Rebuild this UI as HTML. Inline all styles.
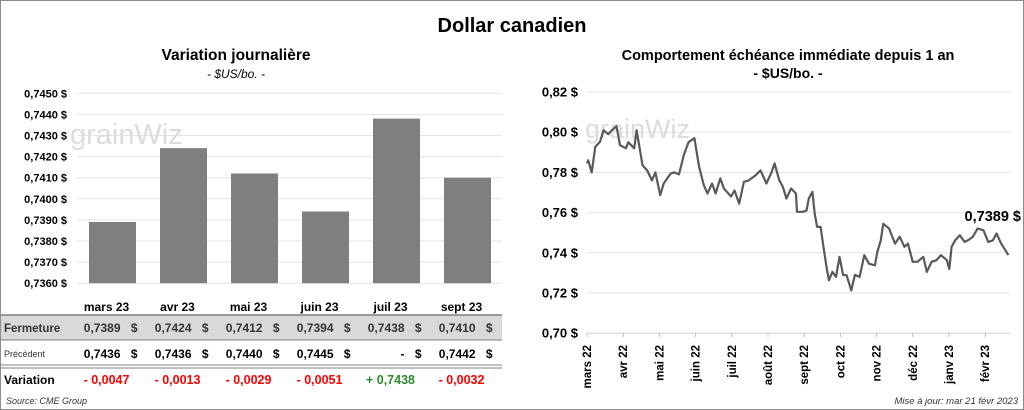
<!DOCTYPE html>
<html><head><meta charset="utf-8"><style>
body{margin:0;background:#fff;}
svg{display:block;font-family:"Liberation Sans",sans-serif;}
</style></head><body>
<svg id="s" width="1024" height="410" viewBox="0 0 1024 410">
<rect x="0.5" y="0.5" width="1023" height="409" fill="#fff" stroke="#8c8c8c"/>
<text x="512" y="32" text-anchor="middle" font-size="20" font-weight="bold">Dollar canadien</text>
<text x="236" y="60" text-anchor="middle" font-size="15.5" font-weight="bold">Variation  journalière</text>
<text x="236" y="78" text-anchor="middle" font-size="12" font-style="italic">- $US/bo. -</text>
<text x="788" y="60" text-anchor="middle" font-size="14.5" font-weight="bold">Comportement échéance immédiate depuis 1 an</text>
<text x="788" y="78" text-anchor="middle" font-size="14" font-weight="bold">- $US/bo. -</text>
<g id="left"></g>
<g id="right"></g>
<g id="tbl"></g>
<text x="6" y="404" font-size="9" font-style="italic" fill="#333">Source: CME Group</text>
<text x="1018" y="404" text-anchor="end" font-size="9.5" font-style="italic" fill="#333">Mise à jour: mar 21 févr 2023</text>
</svg>
<script>
const barCats=["mars 23","avr 23","mai 23","juin 23","juil 23","sept 23"];
const barVals=[0.7389,0.7424,0.7412,0.7394,0.7438,0.7410];
const barTicks=[0.7360,0.7370,0.7380,0.7390,0.7400,0.7410,0.7420,0.7430,0.7440,0.7450];
const fermeture=["0,7389","0,7424","0,7412","0,7394","0,7438","0,7410"];
const precedent=["0,7436","0,7436","0,7440","0,7445","-","0,7442"];
const variation=["- 0,0047","- 0,0013","- 0,0029","- 0,0051","+ 0,7438","- 0,0032"];
const lineDays=[0,1,4,7,11,14,18,21,25,28,33,35,40,42,47,51,55,58,62,65,71,74,78,82,86,91,95,99,102,106,109,113,116,122,125,129,133,137,143,147,152,156,159,163,166,169,173,177,178,183,186,188,191,193,195,198,200,203,205,208,211,214,217,220,224,227,231,235,239,244,246,249,251,256,261,265,269,272,276,280,285,288,292,296,300,305,307,309,312,316,320,323,327,331,336,340,344,347,351,357];
const lineVals=[0.7845,0.786,0.780,0.7927,0.7952,0.801,0.799,0.801,0.803,0.7936,0.792,0.795,0.792,0.801,0.7836,0.781,0.776,0.780,0.7687,0.7745,0.7795,0.780,0.779,0.7886,0.795,0.797,0.7828,0.7737,0.7695,0.7745,0.7695,0.777,0.772,0.768,0.771,0.7645,0.7753,0.776,0.7786,0.781,0.7745,0.7795,0.7845,0.776,0.7728,0.767,0.772,0.7695,0.7604,0.7604,0.761,0.767,0.7703,0.7595,0.7529,0.7529,0.7446,0.733,0.7263,0.7305,0.728,0.738,0.729,0.7288,0.7213,0.729,0.728,0.7388,0.7346,0.7338,0.7404,0.7462,0.7545,0.7521,0.7446,0.748,0.743,0.7446,0.7355,0.7355,0.738,0.7305,0.7355,0.7363,0.7388,0.7363,0.732,0.743,0.7462,0.7487,0.7454,0.7462,0.748,0.7521,0.7512,0.7454,0.7462,0.7496,0.7446,0.7389];
const lineTicks=[0.70,0.72,0.74,0.76,0.78,0.80,0.82];
const monthLabels=["mars 22","avr 22","mai 22","juin 22","juil 22","août 22","sept 22","oct 22","nov 22","déc 22","janv 23","févr 23"];
const lastLabel="0,7389 $";
const NS="http://www.w3.org/2000/svg";
function mk(parent,tag,attrs,txt){const e=document.createElementNS(NS,tag);for(const k in attrs)e.setAttribute(k,attrs[k]);if(txt!==undefined)e.textContent=txt;parent.appendChild(e);return e;}
function fmt(v,d){return v.toFixed(d).replace('.',',')+' $';}
const L=document.getElementById('left');
const ly=v=>93.3+(0.7450-v)/0.001*21.1;
const bx=i=>77+71*i+35.5;
barTicks.forEach(t=>{
 const g=mk(L,'line',{x1:77,x2:502,y1:ly(t),y2:ly(t),stroke:'#e3e3e3','stroke-width':1});
 
 
 const tx=mk(L,'text',{x:67,y:ly(t)+4,'text-anchor':'end','font-size':11,'font-weight':'bold'},fmt(t,4));
 
 
});
const wm1=mk(L,'text',{x:70,y:144,'font-size':29,fill:'#dcdcdc'},'grainWiz');


barVals.forEach((v,i)=>{
 const r=mk(L,'rect',{x:bx(i)-23.5,y:ly(v),width:47,height:ly(0.7360)-ly(v),fill:'#7f7f7f'});
 
 
});
const T=document.getElementById('tbl');
mk(T,'rect',{x:1,y:315,width:501,height:25,fill:'#d9d9d9'});
mk(T,'line',{x1:1,x2:502,y1:315,y2:315,stroke:'#7f7f7f','stroke-width':1.5});
mk(T,'line',{x1:1,x2:502,y1:340,y2:340,stroke:'#7f7f7f','stroke-width':1});
mk(T,'line',{x1:1,x2:502,y1:365,y2:365,stroke:'#7f7f7f','stroke-width':1});
mk(T,'line',{x1:1,x2:502,y1:368,y2:368,stroke:'#7f7f7f','stroke-width':1});
const rl1=mk(T,'text',{x:4,y:332,'font-size':11.5,'font-weight':'bold',fill:'#333'},'Fermeture');


const rl2=mk(T,'text',{x:4,y:357,'font-size':9,fill:'#333'},'Précédent');


const rl3=mk(T,'text',{x:4,y:384,'font-size':12,'font-weight':'bold'},'Variation');


barCats.forEach((c,i)=>{
 const cx=bx(i)-6;
 const h=mk(T,'text',{x:cx,y:311,'text-anchor':'middle','font-size':12,'font-weight':'bold'},c);
 
 
 const f=mk(T,'text',{x:cx+14,y:332,'text-anchor':'end','font-size':12,'font-weight':'bold',fill:'#333'},fermeture[i]);
 
 
 mk(T,'text',{x:cx+31,y:332,'text-anchor':'end','font-size':12,'font-weight':'bold',fill:'#333'},'$');
 const p=mk(T,'text',{x:cx+14,y:358,'text-anchor':'end','font-size':12,'font-weight':'bold'},precedent[i]);
 
 
 mk(T,'text',{x:cx+31,y:358,'text-anchor':'end','font-size':12,'font-weight':'bold'},'$');
 const va=mk(T,'text',{x:cx,y:384,'text-anchor':'middle','font-size':12.5,'font-weight':'bold',fill:variation[i][0]==='+'?'#2e8b2e':'#ff0000'},variation[i]);
 
 
});
const R=document.getElementById('right');
const ry=v=>92+(0.82-v)/0.02*40.2;
const rx=d=>587+d*1.18;
lineTicks.forEach(t=>{
 const g=mk(R,'line',{x1:587,x2:1010,y1:ry(t),y2:ry(t),stroke:t===0.70?'#d0d0d0':'#e3e3e3','stroke-width':1});
 
 
 const tx=mk(R,'text',{x:578,y:ry(t)+4.5,'text-anchor':'end','font-size':13,'font-weight':'bold'},fmt(t,2));
 
 
});
const wm2=mk(R,'text',{x:585,y:138,'font-size':27,fill:'#dcdcdc'},'grainWiz');


monthLabels.forEach((m,i)=>{
 const x=587+i*36.2;
 mk(R,'line',{x1:x,x2:x,y1:333,y2:337,stroke:'#bfbfbf'});
 const tx=mk(R,'text',{x:0,y:0,'text-anchor':'end','font-size':11.5,'font-weight':'bold',transform:'translate('+(x+4)+',345) rotate(-90)'},m);
 
 
});
const pts=lineDays.map((d,i)=>rx(d).toFixed(1)+','+ry(lineVals[i]).toFixed(1)).join(' ');
const pl=mk(R,'polyline',{points:pts,fill:'none',stroke:'#595959','stroke-width':2.2,'stroke-linejoin':'round'});


const lab=mk(R,'text',{x:1021,y:221,'text-anchor':'end','font-size':14.5,'font-weight':'bold'},lastLabel);


</script>
</body></html>
